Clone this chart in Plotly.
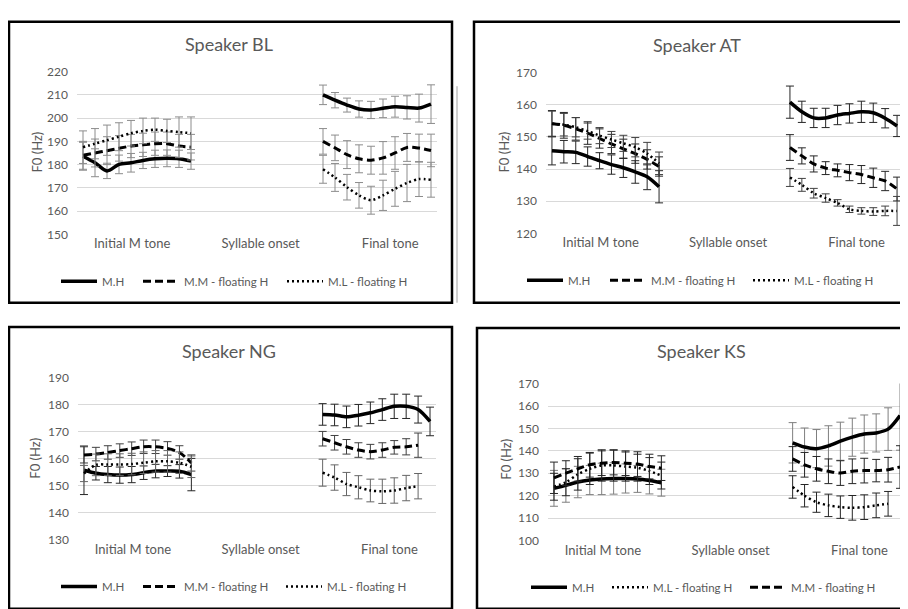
import plotly.graph_objects as go

# The page body has an 8px default margin, so the figure is drawn at (8, 8)
OX, OY = 8, 8
W, H = 908 - OX, 609 - OY
FONT = "Lato"
GRAY = "#595959"

# ---------------- data ----------------
x_labels = ["Initial M tone", "Syllable onset", "Final tone"]
series_names = ["M.H", "M.M - floating H", "M.L - floating H"]
n_initial = 10
n_onset = 10
n_final = 10

# Speaker BL
BL_MH_init = [183.6, 180.8, 177.3, 180.1, 180.8, 181.8, 182.5, 182.7, 182.5, 181.5]
BL_MH_init_err = [6, 6, 3.3, 4, 4, 3.5, 3.7, 3.6, 3.7, 3.5]
BL_MM_init = [184, 185, 186, 187, 188, 188.5, 189, 189, 188, 187.5]
BL_MM_init_err = [6, 6, 6, 5.5, 5, 5, 5, 5, 5, 5.5]
BL_ML_init = [187.5, 189, 190.5, 192, 193.5, 194.5, 195, 194.5, 194, 193.5]
BL_ML_init_err = [7, 6.5, 6.5, 6, 5.5, 5.5, 5, 5, 6.5, 7]
BL_MH_fin = [210, 207.7, 205.6, 203.9, 203.5, 204.2, 204.9, 204.6, 204.3, 206]
BL_MH_fin_err = [4.2, 3.3, 3, 3.5, 3.7, 4, 4.5, 5, 6, 8.3]
BL_MM_fin = [190, 187.2, 184.3, 182.5, 181.9, 182.9, 185, 187.4, 187.1, 186.1]
BL_MM_fin_err = [5.5, 5.5, 6, 6, 6, 7, 7, 6, 6, 7]
BL_ML_fin = [178, 174.5, 170.3, 166.8, 164.7, 166.8, 169.6, 172.1, 173.8, 173.5]
BL_ML_fin_err = [6, 6, 5.5, 5.5, 6, 6.5, 7.5, 8, 7.5, 7.5]

# Speaker AT
AT_MH_init = [145.7, 145.4, 145.2, 143.9, 142.6, 141.4, 140.4, 139.1, 137.6, 134.5]
AT_MH_init_err = [4.4, 3.5, 3.5, 3, 2.5, 3, 3, 3.5, 4, 5]
AT_MM_init = [154.2, 153.6, 152.5, 151.2, 149.5, 147.8, 146.3, 144.8, 143, 140.8]
AT_MM_init_err = [4, 4, 3.5, 3.5, 3, 3, 3, 3, 3, 3]
AT_ML_init = [154, 153.8, 153, 151.8, 150.4, 149.2, 148, 146.8, 144.8, 141.8]
AT_ML_init_err = [4, 3.5, 3, 2.5, 2.5, 2.5, 2.5, 3, 3.5, 3.5]
AT_MH_fin = [160.8, 157.8, 155.9, 155.9, 156.8, 157.3, 157.8, 157.5, 155.8, 153.4]
AT_MH_fin_err = [5, 3.3, 3, 3, 3, 3, 3.3, 3, 3, 3.3]
AT_MM_fin = [146.7, 144.1, 141.6, 140.3, 139.6, 138.9, 138.3, 137.3, 136.3, 133.8]
AT_MM_fin_err = [4, 2.5, 2.5, 2, 2, 2.5, 2.8, 3, 3, 3.7]
AT_ML_fin = [137.4, 135.1, 132.5, 131, 129.5, 127.5, 127, 126.8, 127, 127]
AT_ML_fin_err = [2.8, 2, 1.5, 1.3, 1, 1, 1, 1.2, 1.5, 4.5]

# Speaker NG
NG_MH_init = [155.7, 154.6, 154.1, 153.9, 154.1, 154.8, 155.4, 155.4, 155.3, 154.1]
NG_MH_init_err = [9, 2.5, 3, 3, 3, 2.5, 2.5, 2, 2.5, 6]
NG_MM_init = [161.4, 161.7, 162.3, 163, 163.7, 164.4, 164.4, 163.8, 162.3, 158.4]
NG_MM_init_err = [3, 2.5, 2.5, 2.5, 2.5, 2.5, 2.5, 2.5, 2.5, 3]
NG_ML_init = [154.5, 157.7, 157.8, 157.8, 158, 158.5, 159, 159, 158.5, 157]
NG_ML_init_err = [3, 4, 4, 4, 4, 4, 4, 4, 4, 4]
NG_MH_fin = [176.4, 176.2, 175.5, 176.1, 177, 178.2, 179.4, 179.4, 178.2, 173.8]
NG_MH_fin_err = [4, 4, 4, 4, 4, 4, 4.5, 4.5, 5, 5.3]
NG_MM_fin = [167.4, 165.9, 164.4, 163.2, 162.6, 163.2, 164.2, 164.4, 165]
NG_MM_fin_err = [2.7, 2.7, 2.7, 2.7, 2.7, 2.7, 2.5, 3, 4.5]
NG_ML_fin = [154.8, 153, 150.6, 149.4, 148.2, 147.9, 148.2, 149.1, 149.8]
NG_ML_fin_err = [5, 4.7, 4.3, 4.3, 4.2, 4.5, 4.7, 4.7, 4.7]

# Speaker KS
KS_MH_init = [123.3, 124.6, 126.1, 127, 127.5, 127.7, 127.7, 127.5, 126.8, 125.8]
KS_MH_init_err = [8, 7.5, 7, 6.5, 7, 7, 6.5, 6, 6, 6]
KS_MM_init = [128, 130.1, 132, 133.8, 134.5, 134.8, 134.5, 134.1, 133, 132.3]
KS_MM_init_err = [7, 5.5, 5.5, 5.5, 5.5, 5.5, 5.5, 5.5, 5.5, 5.5]
KS_ML_init = [124, 126, 129.5, 132, 133.5, 133.5, 133, 132.5, 131, 129]
KS_ML_init_err = [6, 6, 7, 7, 7, 7, 6.5, 6, 6, 6]
KS_MH_fin = [143.6, 141.7, 141, 142.2, 144.3, 146.1, 147.5, 148, 149.7, 155.8]
KS_MH_fin_err = [9, 8.5, 8.5, 9, 8.5, 8.5, 8.5, 8.5, 9.5, 15.5]
KS_MM_fin = [136.4, 133.8, 132, 130.9, 130.1, 130.9, 131.2, 131.2, 131.6, 132.8]
KS_MM_fin_err = [5.5, 5.5, 5.5, 5.5, 5.5, 5.5, 5.5, 5, 5.5, 9.5]
KS_ML_fin = [123.9, 120, 117.1, 115.7, 114.9, 114.6, 114.9, 115.7, 116.4]
KS_ML_fin_err = [5, 5, 4.5, 5, 5, 5.5, 5.5, 5.5, 5.5]

# ---------------- helpers ----------------
def full(init, fin):
    fin = list(fin) + [None] * (n_final - len(fin))
    return list(init) + [None] * n_onset + fin

def fx(px):
    return (px - OX) / W

def fy(py):
    return 1 - (py - OY) / H

x_idx = list(range(n_initial + n_onset + n_final))

styles = {
    "M.H": dict(width=3.5, dash="solid"),
    "M.M - floating H": dict(width=3, dash="8px,4px"),
    "M.L - floating H": dict(width=2.5, dash="2px,3px"),
}

panels = [
    dict(name="Speaker BL", ax="", xd=(77, 437), yd=(65, 232), yr=(150, 220),
         title=(229, 37), ytitle=(37, 148), leg_y=280, leg_x=[61, 143, 287],
         data=[("M.H", BL_MH_init, BL_MH_fin, BL_MH_init_err, BL_MH_fin_err, "#8c8c8c"),
               ("M.M - floating H", BL_MM_init, BL_MM_fin, BL_MM_init_err, BL_MM_fin_err, "#8c8c8c"),
               ("M.L - floating H", BL_ML_init, BL_ML_fin, BL_ML_init_err, BL_ML_fin_err, "#8c8c8c")]),
    dict(name="Speaker AT", ax="2", xd=(546, 903), yd=(66, 231), yr=(120, 170),
         title=(697, 38), ytitle=(504, 148), leg_y=279, leg_x=[527, 610, 753],
         data=[("M.H", AT_MH_init, AT_MH_fin, AT_MH_init_err, AT_MH_fin_err, "#262626"),
               ("M.M - floating H", AT_MM_init, AT_MM_fin, AT_MM_init_err, AT_MM_fin_err, "#262626"),
               ("M.L - floating H", AT_ML_init, AT_ML_fin, AT_ML_init_err, AT_ML_fin_err, "#404040")]),
    dict(name="Speaker NG", ax="3", xd=(78, 436), yd=(379, 545), yr=(130, 190),
         title=(229, 352), ytitle=(35, 462), leg_y=593, leg_x=[61, 143, 286],
         data=[("M.H", NG_MH_init, NG_MH_fin, NG_MH_init_err, NG_MH_fin_err, "#262626"),
               ("M.M - floating H", NG_MM_init, NG_MM_fin, NG_MM_init_err, NG_MM_fin_err, "#404040"),
               ("M.L - floating H", NG_ML_init, NG_ML_fin, NG_ML_init_err, NG_ML_fin_err, "#666666")]),
    dict(name="Speaker KS", ax="4", xd=(548, 906), yd=(385, 546), yr=(100, 170),
         title=(701, 352), ytitle=(506, 463), leg_y=594, leg_x=[531, 612, 750],
         data=[("M.H", KS_MH_init, KS_MH_fin, KS_MH_init_err, KS_MH_fin_err, "#7f7f7f"),
               ("M.L - floating H", KS_ML_init, KS_ML_fin, KS_ML_init_err, KS_ML_fin_err, "#262626"),
               ("M.M - floating H", KS_MM_init, KS_MM_fin, KS_MM_init_err, KS_MM_fin_err, "#262626")]),
]

fig = go.Figure()
annotations = []
shapes = []
layout = {}

tick_pos = [4.1, 14.8, 25.6]
leg_count = 0

for p in panels:
    ax = p["ax"]
    for k, (name, init, fin, e_init, e_fin, ecol) in enumerate(p["data"]):
        st = styles[name]
        leg_count += 1
        leg_id = "legend" if leg_count == 1 else "legend%d" % leg_count
        fig.add_trace(go.Scatter(
            x=x_idx, y=full(init, fin), name=name, mode="lines",
            line=dict(color="black", width=st["width"], dash=st["dash"], shape="spline", smoothing=0.8),
            error_y=dict(type="data", array=full(e_init, e_fin), visible=True,
                         color=ecol, thickness=1, width=4),
            connectgaps=False, xaxis="x" + ax, yaxis="y" + ax, legend=leg_id,
            showlegend=True, hoverinfo="skip",
        ))
        layout[leg_id] = dict(
            orientation="h", x=fx(p["leg_x"][k] - 5), y=fy(p["leg_y"]),
            xanchor="left", yanchor="middle",
            font=dict(family=FONT, size=11.5, color=GRAY), bgcolor="rgba(0,0,0,0)",
            borderwidth=0, itemwidth=36,
        )
    x0, x1 = p["xd"]
    y0, y1 = p["yd"]
    layout["xaxis" + ax] = dict(
        domain=[fx(x0), min(fx(x1), 1.0)], range=[-0.5, 29.5], anchor="y" + ax,
        showgrid=False, zeroline=False, showline=False, ticks="",
        tickmode="array", tickvals=tick_pos, ticktext=x_labels,
        tickfont=dict(family=FONT, size=13, color=GRAY), ticklabelstandoff=0,
    )
    layout["yaxis" + ax] = dict(
        domain=[fy(y1), fy(y0)], range=list(p["yr"]), anchor="x" + ax,
        dtick=10, showgrid=True, gridcolor="#d9d9d9", gridwidth=1,
        zeroline=False, showline=False, ticks="",
        tickfont=dict(family=FONT, size=12, color=GRAY), ticklabelstandoff=8,
    )
    tx, ty = p["title"]
    annotations.append(dict(text=p["name"], x=fx(tx), y=fy(ty), xref="paper", yref="paper",
                            showarrow=False, xanchor="center", yanchor="middle",
                            font=dict(family=FONT, size=18, color=GRAY)))
    yx, yy = p["ytitle"]
    annotations.append(dict(text="F0 (Hz)", x=fx(yx), y=fy(yy), xref="paper", yref="paper",
                            showarrow=False, xanchor="center", yanchor="middle", textangle=-90,
                            font=dict(family=FONT, size=13, color=GRAY)))

# panel borders (pixel boxes in the page)
boxes = [(9, 14, 452, 302), (474, 14, 915, 302), (9, 327, 452, 616), (477, 328, 915, 616)]
for bx0, by0, bx1, by1 in boxes:
    shapes.append(dict(type="rect", xref="paper", yref="paper",
                       x0=fx(bx0), x1=fx(bx1), y0=fy(by1), y1=fy(by0),
                       line=dict(color="black", width=2.5), fillcolor="rgba(0,0,0,0)"))
shapes.append(dict(type="line", xref="paper", yref="paper", x0=fx(457), x1=fx(457),
                   y0=fy(302), y1=fy(80), line=dict(color="#a0a0a0", width=1)))

fig.update_layout(
    width=W, height=H, margin=dict(l=0, r=0, t=0, b=0),
    paper_bgcolor="white", plot_bgcolor="white", showlegend=True,
    annotations=annotations, shapes=shapes, **layout,
)

fig.write_html("out.html")
